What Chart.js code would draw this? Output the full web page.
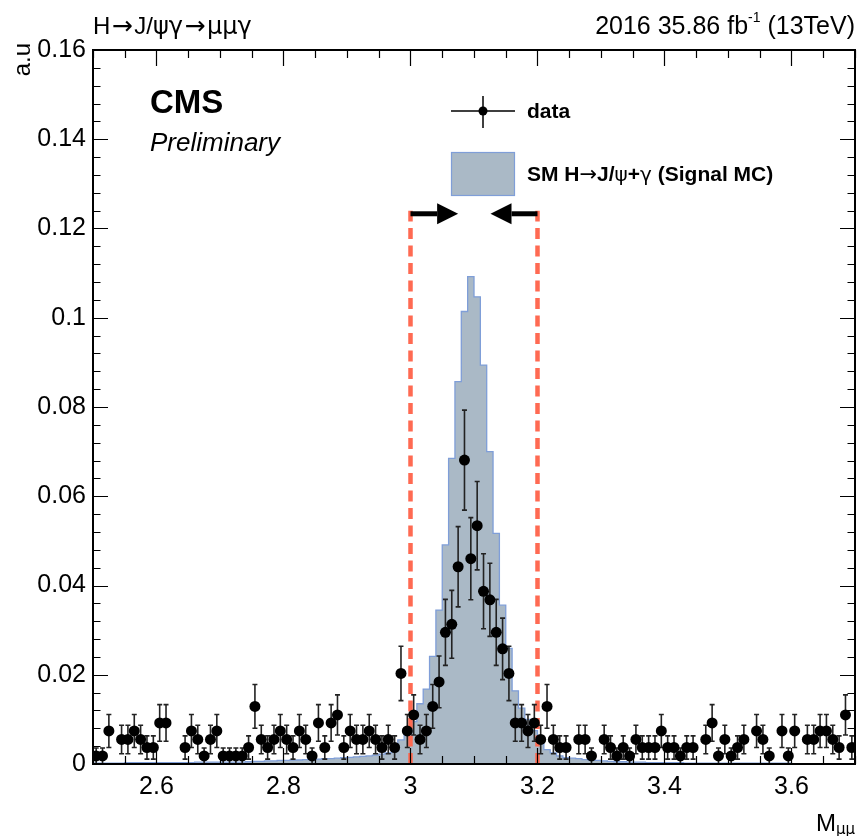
<!DOCTYPE html>
<html><head><meta charset="utf-8">
<script src="https://cdn.jsdelivr.net/npm/chart.js@4/dist/chart.umd.min.js"></script>
<style>html,body{margin:0;padding:0;background:#fff;}#wrap{position:relative;width:861px;height:836px;}</style>
</head><body><div id="wrap"><canvas id="c" width="861" height="836"></canvas></div>
<script>
// ---- binning (categories) ----
const binLow = 2.5, binWidth = 0.01, nBins = 120;

// ---- data (normalised, a.u.) per 0.01 bin from 2.50 to 3.70 ; null = empty bin ----
const dataValues = [
 0.0018,0.0018,0.0074,null,0.0055,0.0055,0.0074,0.0055,0.0037,0.0037,
 0.0092,0.0092,null,null,0.0037,0.0074,0.0055,0.0018,0.0055,0.0074,
 0.0018,0.0018,0.0018,0.0018,0.0037,0.0129,0.0055,0.0037,0.0055,0.0074,
 0.0055,0.0037,0.0074,0.0055,0.0018,0.0092,0.0037,0.0092,0.0110,0.0037,
 0.0074,0.0055,0.0055,0.0074,0.0055,0.0037,0.0055,0.0037,0.0203,0.0074,
 0.0110,0.0055,0.0074,0.0129,0.0184,0.0295,0.0313,0.0442,0.0681,0.0460,
 0.0534,0.0387,0.0368,0.0295,0.0258,0.0203,0.0092,0.0092,0.0074,0.0092,
 0.0055,0.0129,0.0055,0.0037,0.0037,null,0.0055,0.0055,0.0018,null,
 0.0055,0.0037,0.0018,0.0037,0.0018,0.0055,0.0037,0.0037,0.0037,0.0074,
 0.0037,0.0037,0.0018,0.0037,0.0037,null,0.0055,0.0092,0.0018,0.0055,
 0.0018,0.0037,0.0055,null,0.0074,0.0055,0.0018,null,0.0074,0.0018,
 0.0074,null,0.0055,0.0055,0.0074,0.0074,0.0055,0.0037,0.0110,0.0037
];
const dataErrors = [
 0.0018,0.0018,0.0037,null,0.0032,0.0032,0.0037,0.0032,0.0026,0.0026,
 0.0041,0.0041,null,null,0.0026,0.0037,0.0032,0.0018,0.0032,0.0037,
 0.0018,0.0018,0.0018,0.0018,0.0026,0.0049,0.0032,0.0026,0.0032,0.0037,
 0.0032,0.0026,0.0037,0.0032,0.0018,0.0041,0.0026,0.0041,0.0045,0.0026,
 0.0037,0.0032,0.0032,0.0037,0.0032,0.0026,0.0032,0.0026,0.0061,0.0037,
 0.0045,0.0032,0.0037,0.0049,0.0058,0.0074,0.0076,0.0090,0.0112,0.0092,
 0.0099,0.0084,0.0082,0.0074,0.0069,0.0061,0.0041,0.0041,0.0037,0.0041,
 0.0032,0.0049,0.0032,0.0026,0.0026,null,0.0032,0.0032,0.0018,null,
 0.0032,0.0026,0.0018,0.0026,0.0018,0.0032,0.0026,0.0026,0.0026,0.0037,
 0.0026,0.0026,0.0018,0.0026,0.0026,null,0.0032,0.0041,0.0018,0.0032,
 0.0018,0.0026,0.0032,null,0.0037,0.0032,0.0018,null,0.0037,0.0018,
 0.0037,null,0.0032,0.0032,0.0037,0.0037,0.0032,0.0026,0.0045,0.0026
];
// ---- SM H->J/psi gamma signal MC histogram ----
const signalMC = [
 0.0002,0.0002,0.0002,0.0002,0.0002,0.0003,0.0003,0.0003,0.0003,0.0003,
 0.0003,0.0003,0.0003,0.0003,0.0003,0.0003,0.0004,0.0004,0.0004,0.0004,
 0.0004,0.0004,0.0004,0.0004,0.0005,0.0006,0.0006,0.0007,0.0007,0.0008,
 0.0008,0.0009,0.0009,0.0010,0.0010,0.0011,0.0012,0.0012,0.0013,0.0014,
 0.0015,0.0016,0.0017,0.0018,0.0020,0.0022,0.0025,0.0032,0.0054,0.0077,
 0.0095,0.0135,0.0168,0.0241,0.0345,0.0491,0.0685,0.0857,0.1014,0.1092,
 0.1047,0.0894,0.0700,0.0517,0.0356,0.0259,0.0164,0.0125,0.0100,0.0075,
 0.0050,0.0032,0.0025,0.0018,0.0014,0.0013,0.0012,0.0010,0.0009,0.0008,
 0.0007,0.0006,0.0005,0.0005,0.0004,0.0004,0.0004,0.0003,0.0003,0.0003,
 0.0003,0.0003,0.0003,0.0002,0.0002,0.0002,0.0002,0.0002,0.0002,0.0002,
 0.0002,0.0002,0.0002,0.0002,0.0002,0.0002,0.0002,0.0002,0.0002,0.0002,
 0.0001,0.0001,0.0001,0.0001,0.0001,0.0001,0.0001,0.0001,0.0001,0.0001
];
// ---- axes ----
const xMin = 2.5, xMax = 3.7, yMin = 0, yMax = 0.16;
const xTickValues = [2.6, 2.8, 3.0, 3.2, 3.4, 3.6];
const xTickLabels = ['2.6', '2.8', '3', '3.2', '3.4', '3.6'];
const yTickValues = [0, 0.02, 0.04, 0.06, 0.08, 0.10, 0.12, 0.14, 0.16];
const yTickLabels = ['0', '0.02', '0.04', '0.06', '0.08', '0.1', '0.12', '0.14', '0.16'];
const xMinorStep = 0.05, yMinorStep = 0.004;
// ---- mass window ----
const windowEdges = [3.0, 3.2];
const windowTop = 0.124;
const arrowY = 0.1233;
const arrowTips = [3.075, 3.126];

const FONT = "'Liberation Sans', Arial, Helvetica, sans-serif";
const SYM = "'DejaVu Sans', sans-serif";
const HIST_FILL = '#aab9c6', HIST_LINE = '#7f9ed8', WIN_COLOR = '#ff6a52';

const dataPoints = [];
const errPoints = [];
for (let i = 0; i < nBins; i++) {
  if (dataValues[i] === null) continue;
  const xc = binLow + binWidth * (i + 0.5);
  dataPoints.push({x: xc, y: dataValues[i]});
  errPoints.push({x: xc, y: dataValues[i], e: dataErrors[i]});
}
const histPoints = [];
for (let i = 0; i < nBins; i++) histPoints.push({x: binLow + binWidth * i, y: signalMC[i]});
histPoints.push({x: binLow + binWidth * nBins, y: signalMC[nBins - 1]});

// draw a line of text made of runs in different fonts
function drawRich(ctx, runs, x, y, align) {
  let total = 0;
  runs.forEach(r => { ctx.font = r.f; r.w = ctx.measureText(r.t).width + (r.gap || 0) * 2; total += r.w; });
  let cx = align === 'right' ? x - total : x;
  ctx.textAlign = 'left';
  runs.forEach(r => { ctx.font = r.f; ctx.fillText(r.t, cx + (r.gap || 0), y + (r.dy || 0)); cx += r.w; });
}

const decor = {
  id: 'decor',
  beforeDatasetDraw(chart, args) {
    if (args.index !== 0) return;
    const ctx = chart.ctx, xs = chart.scales.x, ys = chart.scales.y;
    ctx.save();
    ctx.strokeStyle = WIN_COLOR; ctx.lineWidth = 4.5; ctx.setLineDash([11, 6.5]);
    windowEdges.forEach(v => {
      const px = xs.getPixelForValue(v);
      ctx.beginPath(); ctx.moveTo(px, ys.getPixelForValue(0)); ctx.lineTo(px, ys.getPixelForValue(windowTop)); ctx.stroke();
    });
    ctx.setLineDash([]);
    ctx.strokeStyle = '#000'; ctx.fillStyle = '#000'; ctx.lineWidth = 5;
    const ay = ys.getPixelForValue(arrowY);
    for (let k = 0; k < 2; k++) {
      const x0 = xs.getPixelForValue(windowEdges[k]);
      const x1 = xs.getPixelForValue(arrowTips[k]);
      const dir = Math.sign(x1 - x0);
      const hl = 21, hh = 10.5;
      ctx.beginPath(); ctx.moveTo(x0, ay); ctx.lineTo(x1 - dir * hl, ay); ctx.stroke();
      ctx.beginPath(); ctx.moveTo(x1, ay); ctx.lineTo(x1 - dir * hl, ay - hh); ctx.lineTo(x1 - dir * hl, ay + hh); ctx.closePath(); ctx.fill();
    }
    ctx.strokeStyle = '#222'; ctx.lineWidth = 1.6;
    errPoints.forEach(p => {
      const px = xs.getPixelForValue(p.x);
      const yt = ys.getPixelForValue(p.y + p.e), yb = ys.getPixelForValue(Math.max(0, p.y - p.e));
      ctx.beginPath();
      ctx.moveTo(px, yt); ctx.lineTo(px, yb);
      ctx.moveTo(px - 2.5, yt); ctx.lineTo(px + 2.5, yt);
      ctx.moveTo(px - 2.5, yb); ctx.lineTo(px + 2.5, yb);
      ctx.stroke();
    });
    ctx.restore();
  },
  afterDraw(chart) {
    const ctx = chart.ctx, xs = chart.scales.x, ys = chart.scales.y, a = chart.chartArea;
    ctx.save();
    ctx.strokeStyle = '#000'; ctx.lineWidth = 1.2;
    ctx.beginPath();
    for (let v = xMin; v <= xMax + 1e-9; v += xMinorStep) {
      const px = Math.round(xs.getPixelForValue(v)) + 0.5;
      const major = xTickValues.some(t => Math.abs(t - v) < 1e-6);
      const L = major ? 16 : 8;
      ctx.moveTo(px, a.bottom); ctx.lineTo(px, a.bottom - L);
      ctx.moveTo(px, a.top); ctx.lineTo(px, a.top + L);
    }
    for (let v = yMin; v <= yMax + 1e-9; v += yMinorStep) {
      const py = Math.round(ys.getPixelForValue(v)) + 0.5;
      const major = yTickValues.some(t => Math.abs(t - v) < 1e-6);
      const L = major ? 15 : 7.5;
      ctx.moveTo(a.left, py); ctx.lineTo(a.left + L, py);
      ctx.moveTo(a.right, py); ctx.lineTo(a.right - L, py);
    }
    ctx.stroke();
    ctx.lineWidth = 2;
    ctx.strokeRect(a.left, a.top, a.right - a.left, a.bottom - a.top);

    ctx.fillStyle = '#000'; ctx.textBaseline = 'alphabetic';
    const F = '24px ' + FONT, G = '24px ' + SYM, A = '25px ' + SYM;
    drawRich(ctx, [
      {t: 'H', f: F}, {t: '\u2192', f: A, gap: 1.5}, {t: 'J/', f: F}, {t: '\u03c8\u03b3', f: G},
      {t: '\u2192', f: A, gap: 1.5}, {t: '\u03bc\u03bc\u03b3', f: G}
    ], a.left, 34, 'left');
    drawRich(ctx, [
      {t: '2016 35.86 fb', f: '25px ' + FONT}, {t: '-1', f: '14px ' + FONT, dy: -12}, {t: ' (13TeV)', f: '25px ' + FONT}
    ], a.right, 34, 'right');
    ctx.textAlign = 'left';
    ctx.font = 'bold 33px ' + FONT;
    ctx.fillText('CMS', 150, 113);
    ctx.font = 'italic 26px ' + FONT;
    ctx.fillText('Preliminary', 150, 151);
    ctx.save();
    ctx.translate(30, 43); ctx.rotate(-Math.PI / 2);
    ctx.font = '24px ' + FONT; ctx.textAlign = 'right';
    ctx.fillText('a.u', 0, 0);
    ctx.restore();
    drawRich(ctx, [
      {t: 'M', f: '24px ' + FONT}, {t: '\u03bc\u03bc', f: '15px ' + SYM, dy: 3}
    ], a.right, 831, 'right');
    // legend
    ctx.strokeStyle = '#000'; ctx.lineWidth = 1.5;
    ctx.beginPath(); ctx.moveTo(451, 111); ctx.lineTo(515, 111); ctx.moveTo(483, 96); ctx.lineTo(483, 128); ctx.stroke();
    ctx.beginPath(); ctx.arc(483, 111, 4.5, 0, Math.PI * 2); ctx.fillStyle = '#000'; ctx.fill();
    ctx.fillStyle = HIST_FILL; ctx.fillRect(451, 152, 64, 44);
    ctx.strokeStyle = HIST_LINE; ctx.lineWidth = 1.2; ctx.strokeRect(451.5, 152.5, 63, 43);
    ctx.fillStyle = '#000';
    const B = 'bold 21px ' + FONT;
    drawRich(ctx, [{t: 'data', f: B}], 527, 118, 'left');
    drawRich(ctx, [
      {t: 'SM H', f: B}, {t: '\u2192', f: '21px ' + SYM}, {t: 'J/', f: B}, {t: '\u03c8', f: '20px ' + SYM},
      {t: '+', f: B}, {t: '\u03b3', f: '20px ' + SYM}, {t: ' (Signal MC)', f: B}
    ], 527, 181, 'left');
    ctx.restore();
  }
};

new Chart(document.getElementById('c'), {
  type: 'scatter',
  data: {
    datasets: [
      { type: 'scatter', label: 'data', data: dataPoints, pointRadius: 5.5, pointHoverRadius: 5.5,
        backgroundColor: '#000', borderColor: '#000', borderWidth: 0, order: 0 },
      { type: 'line', label: 'SM H\u2192J/\u03c8+\u03b3 (Signal MC)', data: histPoints, stepped: 'before',
        fill: 'origin', backgroundColor: HIST_FILL, borderColor: HIST_LINE, borderWidth: 1.3,
        pointRadius: 0, tension: 0, order: 1 }
    ]
  },
  options: {
    responsive: false, animation: false, devicePixelRatio: 1,
    layout: { padding: { top: 50, right: 6, left: 0, bottom: 0 } },
    plugins: { legend: { display: false }, tooltip: { enabled: false } },
    scales: {
      x: {
        type: 'linear', min: xMin, max: xMax,
        afterBuildTicks: s => { s.ticks = xTickValues.map(v => ({ value: v })); },
        afterFit: s => { s.height = 72; },
        grid: { display: false, drawTicks: false }, border: { display: false },
        ticks: { autoSkip: false, maxRotation: 0, minRotation: 0, padding: 8, color: '#000',
          font: { family: FONT, size: 25 }, callback: (v, i) => xTickLabels[i] }
      },
      y: {
        type: 'linear', min: yMin, max: yMax,
        afterBuildTicks: s => { s.ticks = yTickValues.map(v => ({ value: v })); },
        afterFit: s => { s.width = 93; },
        grid: { display: false, drawTicks: false }, border: { display: false },
        ticks: { autoSkip: false, padding: 7, color: '#000',
          font: { family: FONT, size: 25 }, callback: (v, i) => yTickLabels[i] }
      }
    }
  },
  plugins: [decor]
});
</script>
</body></html>
